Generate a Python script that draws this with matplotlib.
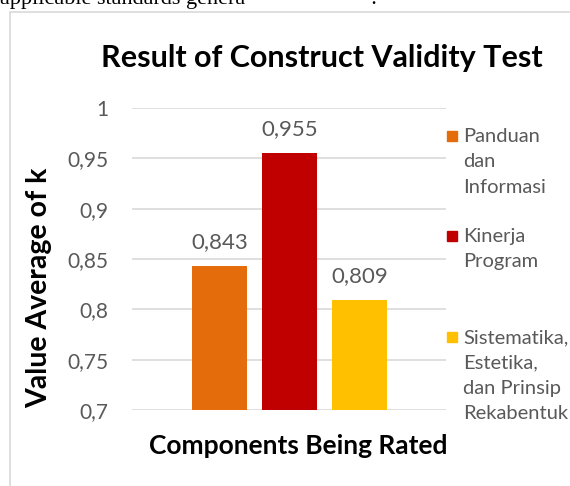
import matplotlib
matplotlib.use("Agg")
import matplotlib.pyplot as plt
from matplotlib.patches import Rectangle
from matplotlib.ticker import FuncFormatter

# data
labels = ["Panduan\ndan\nInformasi", "Kinerja\nProgram", "Sistematika,\nEstetika,\ndan Prinsip\nRekabentuk"]
values = [0.843, 0.955, 0.809]
colors = ["#E46C0A", "#C00000", "#FFC000"]
yticks = [0.7, 0.75, 0.8, 0.85, 0.9, 0.95, 1.0]

FONT = ["Lato", "DejaVu Sans"]
GRAY = "#595959"

def comma(v, _=None):
    s = f"{v:.3f}".rstrip("0").rstrip(".")
    return s.replace(".", ",")

fig = plt.figure(figsize=(5.70, 4.86), dpi=100)

# chart frame (page crop, frame runs past right/bottom edges)
fig.patches.append(Rectangle((10 / 570, -0.05), 1.0, 1 - 12 / 486 + 0.05,
                             transform=fig.transFigure, fill=False,
                             edgecolor="#d9d9d9", lw=1.2))
# cut-off text of the surrounding page
fig.text(0.0, 1 - 4 / 486, "applicable standards genera", family="Liberation Serif",
         fontsize=16, va="baseline", ha="left", color="black")
fig.text(370 / 570, 1 - 4 / 486, ":", family="Liberation Serif",
         fontsize=16, va="baseline", ha="left", color="black")

ax = fig.add_axes([132 / 570, 1 - 410 / 486, 314 / 570, 302 / 486])
xs = [-1, 0, 1]
bars = ax.bar(xs, values, width=0.786, color=colors, zorder=3)
ax.set_xlim(-2.25, 2.23)
ax.set_ylim(0.7, 1.0)
ax.set_yticks(yticks)
ax.yaxis.set_major_formatter(FuncFormatter(comma))
ax.grid(axis="y", color="#d9d9d9", lw=1.2, zorder=0)
ax.set_xticks([])
for s in ax.spines.values():
    s.set_visible(False)
ax.tick_params(axis="y", length=0, pad=17, labelsize=15, labelcolor=GRAY)
for t in ax.get_yticklabels():
    t.set_family(FONT)

for b, v in zip(bars, values):
    ax.text(b.get_x() + b.get_width() / 2, v + 0.014, comma(v), ha="center",
            va="bottom", fontsize=16, color=GRAY, family=FONT)

ax.set_ylabel("Value Average of k", fontsize=20.5, fontweight="bold", family=FONT)
ax.yaxis.set_label_coords(-0.255, 0.404)
ax.set_xlabel("Components Being Rated", fontsize=19, fontweight="bold", family=FONT)
ax.xaxis.set_label_coords(0.529, -0.08)
fig.text(322 / 570, 1 - 58 / 486, "Result of Construct Validity Test", ha="center",
         va="center", fontsize=22, fontweight="bold", family=FONT)

# legend drawn by hand to keep the wrapped Excel layout
leg_y = [136, 236, 337]
for lab, c, y in zip(labels, colors, leg_y):
    fig.patches.append(Rectangle((447 / 570, 1 - (y + 5) / 486), 10 / 570, 10 / 486,
                                 transform=fig.transFigure, color=c))
    fig.text(463 / 570, 1 - (y - 8) / 486, lab, ha="left", va="top", fontsize=14.5,
             color=GRAY, family=FONT, linespacing=1.6)

fig.savefig("out.png", dpi=100)
